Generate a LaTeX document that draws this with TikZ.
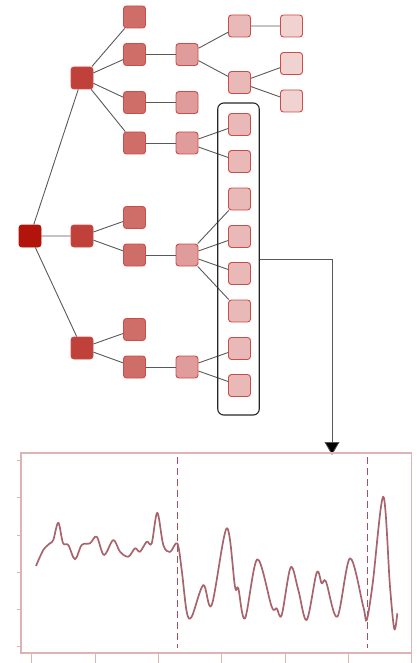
\documentclass[tikz,border=0pt]{standalone}
\usepackage{tikz}
\usetikzlibrary{arrows.meta, positioning}

\definecolor{lvroot}{RGB}{178,20,12}
\definecolor{lvone}{RGB}{192,64,58}
\definecolor{lvtwo}{RGB}{207,110,104}
\definecolor{lvthree}{RGB}{224,156,154}
\definecolor{lvfour}{RGB}{232,185,183}
\definecolor{lvfive}{RGB}{240,210,209}
\definecolor{cellrim}{RGB}{204,76,72}
\definecolor{framepink}{RGB}{220,180,180}
\definecolor{tracered}{RGB}{168,100,108}
\definecolor{cutred}{RGB}{165,80,95}

\tikzset{
    cell/.style={draw=cellrim, rectangle, rounded corners=3pt, line width=0.9pt, minimum size=22pt, inner sep=0pt},
    link/.style={draw=black!65, line width=0.9pt},
    groupbox/.style={draw=black!85, rectangle, rounded corners=6pt, line width=1.1pt, minimum width=41.5pt, minimum height=312pt, inner sep=0pt}
}

\begin{document}
\begin{tikzpicture}[x=1pt,y=-1pt]
    \useasboundingbox (0,0) rectangle (417,663);

    % tree
    \node[cell, fill=lvroot, draw=lvroot] (root) at (30,236) {};

    \node[cell, fill=lvone] (a1) at (82,78) {};
    \node[cell, fill=lvone] (a2) at (82,236) {};
    \node[cell, fill=lvone] (a3) at (82,348) {};

    \node[cell, fill=lvtwo] (b1) at (134.5,17) {};
    \node[cell, fill=lvtwo] (b2) at (134.5,54.5) {};
    \node[cell, fill=lvtwo] (b3) at (134.5,102.5) {};
    \node[cell, fill=lvtwo] (b4) at (134.5,143) {};
    \node[cell, fill=lvtwo] (b5) at (134.5,217.5) {};
    \node[cell, fill=lvtwo] (b6) at (134.5,255) {};
    \node[cell, fill=lvtwo] (b7) at (134.5,329.5) {};
    \node[cell, fill=lvtwo] (b8) at (134.5,367) {};

    \node[cell, fill=lvthree] (c1) at (187,54.5) {};
    \node[cell, fill=lvthree] (c2) at (187,102.5) {};
    \node[cell, fill=lvthree] (c3) at (187,143) {};
    \node[cell, fill=lvthree] (c4) at (187,255) {};
    \node[cell, fill=lvthree] (c5) at (187,367) {};

    \node[cell, fill=lvfour] (d1) at (239.5,26) {};
    \node[cell, fill=lvfour] (d2) at (239.5,82.5) {};
    \node[cell, fill=lvfour] (d3) at (239.5,124.5) {};
    \node[cell, fill=lvfour] (d4) at (239.5,161.5) {};
    \node[cell, fill=lvfour] (d5) at (239.5,199) {};
    \node[cell, fill=lvfour] (d6) at (239.5,236.5) {};
    \node[cell, fill=lvfour] (d7) at (239.5,273.5) {};
    \node[cell, fill=lvfour] (d8) at (239.5,311) {};
    \node[cell, fill=lvfour] (d9) at (239.5,348.5) {};
    \node[cell, fill=lvfour] (d10) at (239.5,385.5) {};

    \node[cell, fill=lvfive] (e1) at (291.5,26) {};
    \node[cell, fill=lvfive] (e2) at (291.5,63.5) {};
    \node[cell, fill=lvfive] (e3) at (291.5,101) {};

    \draw[link] (root) -- (a1) (root) -- (a2) (root) -- (a3);
    \draw[link] (a1) -- (b1) (a1) -- (b2) (a1) -- (b3) (a1) -- (b4);
    \draw[link] (a2) -- (b5) (a2) -- (b6);
    \draw[link] (a3) -- (b7) (a3) -- (b8);
    \draw[link] (b2) -- (c1) (b3) -- (c2) (b4) -- (c3) (b6) -- (c4) (b8) -- (c5);
    \draw[link] (c1) -- (d1) (c1) -- (d2);
    \draw[link] (c3) -- (d3) (c3) -- (d4);
    \draw[link] (c4) -- (d5) (c4) -- (d6) (c4) -- (d7) (c4) -- (d8);
    \draw[link] (c5) -- (d9) (c5) -- (d10);
    \draw[link] (d1) -- (e1) (d2) -- (e2) (d2) -- (e3);

    % selected leaves
    \node[groupbox] (grp) at (238.5,259) {};
    \coordinate (tip) at (332,455);
    \draw[draw=black!65, line width=0.8pt, -{Triangle[width=15pt,length=13pt,fill=black]}] (grp.east) -| (tip);

    % signal panel
    \draw[framepink, line width=1.3pt] (21,453) rectangle (411.5,653);
    \foreach \yy in {460,497.7,535,572.7,609,646.7}
        \draw[framepink, line width=0.9pt] (17,\yy) -- (21,\yy);
    \foreach \xx in {31.7,95,158,221.7,285,348,411.5}
        \draw[framepink, line width=0.9pt] (\xx,653) -- (\xx,663);
    \draw[cutred, line width=1.4pt, dash pattern=on 7pt off 4pt] (177.5,457) -- (177.5,648);
    \draw[cutred, line width=1.4pt, dash pattern=on 7pt off 4pt] (367.3,457) -- (367.3,648);
    \draw[tracered, line width=1.7pt, line join=round] plot[smooth, tension=0.55] coordinates {
        (36,566) (43.3,550) (50,543.3) (53.3,540) (58.3,522.7) (63,543) (68.3,545) (75,559.3)
        (81.7,545) (90,543.3) (96.7,536.7) (104,555) (113.3,540) (120,551.7) (128.3,556.7)
        (135,548.3) (140,551.7) (146.7,541.7) (151.7,543.3) (157.3,512.7) (163.3,545) (170,552)
        (177.3,543.3) (181.7,570) (186.7,611.7) (191.7,616.7) (203.3,585) (211.7,605) (226.7,528.3)
        (235,586.7) (238.3,588.3) (245,618.3) (257.3,559.3) (271.7,606.7) (276.7,608.3) (281.7,615)
        (290.7,567.3) (298.3,590) (306.7,620) (316.7,572.7) (321.7,583.3) (326,581.7) (337.3,616.7)
        (350,558.3) (363.3,606.7) (366.7,620) (372.7,583.3) (383.3,496.7) (390,586.7) (394.3,629)
        (397.3,613.3)};
\end{tikzpicture}
\end{document}
